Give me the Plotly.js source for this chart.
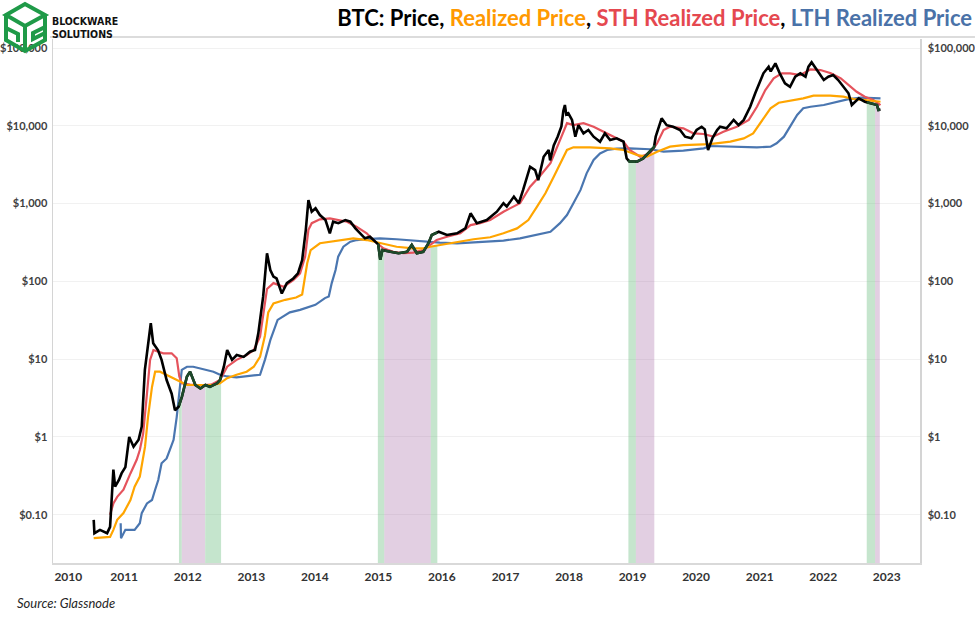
<!DOCTYPE html>
<html>
<head>
<meta charset="utf-8">
<script src="https://cdn.plot.ly/plotly-3.0.1.min.js"></script>
<style>
  html, body { margin: 0; padding: 0; background: #fff; }
  #wrap { position: relative; width: 975px; height: 622px; }
  #chart { width: 975px; height: 622px; }
  #logo { position: absolute; left: 0; top: 0; pointer-events: none; }
</style>
</head>
<body>
<div id="wrap">
  <div id="chart"></div>
  <svg id="logo" width="52" height="54" viewBox="0 0 52 54">
    <g fill="none" stroke="#1f9a48" stroke-width="4" stroke-linejoin="miter">
      <path d="M6,15 L25,4 L45,15 L25,26 Z"/>
      <path d="M6,15 L6,40 L25,51 L45,40 L45,15"/>
      <path d="M25,26 L25,51"/>
      <path d="M6,28 L18,34 L18,42"/>
      <path d="M45,27 L33,33 L33,39 L45,33"/>
    </g>
  </svg>
</div>
<script>
// ---------------- DATA ----------------
const priceDates = ['2010-07-10','2010-07-14','2010-08-15','2010-09-25','2010-10-12','2010-10-31','2010-11-10','2010-12-02','2010-12-17',
'2011-01-08','2011-01-30','2011-02-24','2011-03-25','2011-04-12','2011-04-30','2011-05-18','2011-06-03','2011-06-17','2011-07-15','2011-08-04','2011-09-02','2011-10-01','2011-10-20','2011-11-10','2011-11-29','2011-12-28',
'2012-01-15','2012-02-14','2012-03-14','2012-04-12','2012-05-08','2012-06-18','2012-07-05','2012-07-27','2012-08-15','2012-09-12','2012-10-09','2012-11-18','2012-12-24',
'2013-01-22','2013-02-10','2013-02-20','2013-03-10','2013-04-01','2013-04-20','2013-05-08','2013-05-26','2013-06-25','2013-07-24','2013-08-30','2013-09-26','2013-10-20','2013-11-10','2013-11-25','2013-12-14',
'2014-01-05','2014-01-30','2014-03-03','2014-03-28','2014-04-16','2014-05-16','2014-06-25','2014-07-24','2014-08-22','2014-09-16','2014-10-16','2014-11-14','2014-12-14','2014-12-31',
'2015-01-12','2015-01-24','2015-03-10','2015-04-27','2015-06-15','2015-07-12','2015-08-10','2015-09-16','2015-10-16','2015-11-04','2015-12-14',
'2016-01-30','2016-03-28','2016-05-15','2016-06-14','2016-07-20','2016-09-15','2016-11-12','2016-12-20',
'2017-01-08','2017-02-18','2017-03-18','2017-04-12','2017-05-22','2017-06-20','2017-07-08','2017-08-08','2017-09-06','2017-09-14','2017-10-05','2017-10-28','2017-11-18','2017-11-29','2017-12-08','2017-12-16','2017-12-28',
'2018-01-18','2018-02-06','2018-02-24','2018-03-25','2018-04-22','2018-05-22','2018-06-28','2018-07-26','2018-08-25','2018-10-01','2018-11-10','2018-11-28','2018-12-15',
'2019-01-26','2019-03-03','2019-04-12','2019-05-04','2019-05-14','2019-05-30','2019-06-17','2019-07-16','2019-08-22','2019-10-01','2019-10-30','2019-12-05',
'2020-01-04','2020-02-02','2020-02-20','2020-03-05','2020-03-10','2020-04-05','2020-05-01','2020-05-18','2020-06-24','2020-08-04','2020-09-01','2020-10-01','2020-11-07','2020-12-06',
'2021-01-04','2021-01-22','2021-02-21','2021-03-05','2021-04-01','2021-04-26','2021-05-26','2021-06-24','2021-07-24','2021-08-22','2021-09-21','2021-10-08','2021-10-26','2021-11-24',
'2022-01-04','2022-01-30','2022-02-27','2022-03-28','2022-04-26','2022-05-26','2022-06-14','2022-07-24','2022-08-28','2022-10-08','2022-11-06','2022-11-14','2022-11-26'];
const priceVals = [0.086,0.058,0.064,0.058,0.07,0.38,0.23,0.28,0.34,
0.41,1.0,0.75,0.92,1.36,7.3,16,29,16,13,9.8,5.4,3.6,2.2,2.45,3.3,6.0,
6.9,4.66,4.2,4.66,4.4,4.9,5.4,8.0,13.1,9.8,11.3,10.7,12.5,
13.1,21.5,31.8,64,230,140,115,109,70,95,109,127,188,460,1110,787,
873,713,615,415,585,560,615,585,481,415,358,375,324,300,
190,253,240,230,240,294,230,240,309,395,435,
395,415,480,750,560,615,787,1010,
915,1230,1010,1500,2980,2690,2000,4010,4890,3600,5600,7300,9800,15500,18500,14000,14500,
11900,7250,10200,8000,8830,7250,6250,8000,6560,6900,6250,3820,3460,
3460,3820,4650,5300,7250,9730,12500,10200,9730,8830,7250,6900,
8830,9730,9000,5660,4890,7000,8830,9730,9290,11900,10200,11900,17600,26200,
38800,47300,57600,50000,63500,47300,35200,31800,42800,47300,42800,57600,65400,52100,
38800,42800,45000,38800,31800,26200,18500,22500,20400,19500,18500,16000,16200];

const rpDates = ['2010-07-10','2010-10-12','2010-10-31','2010-11-22','2010-12-28',
'2011-02-06','2011-03-02','2011-04-01','2011-05-01','2011-05-18','2011-06-10','2011-06-28','2011-07-26','2011-09-20','2011-11-18','2011-12-28',
'2012-03-14','2012-05-28','2012-07-05','2012-08-15','2012-10-08','2012-12-05',
'2013-01-15','2013-02-20','2013-03-20','2013-04-08','2013-05-08','2013-07-15','2013-09-15','2013-10-20','2013-11-18','2013-12-08',
'2014-01-30','2014-03-28','2014-05-26','2014-08-10','2014-10-26',
'2015-01-10','2015-04-16','2015-07-20','2015-09-16','2015-10-26','2015-12-20',
'2016-03-28','2016-07-01','2016-10-05','2016-12-20',
'2017-03-08','2017-05-12','2017-07-01','2017-08-18','2017-10-05','2017-11-10','2017-12-20',
'2018-01-26','2018-05-01','2018-08-25','2018-11-10',
'2019-01-26','2019-03-25','2019-05-22','2019-08-04','2019-10-20',
'2020-02-14','2020-03-20','2020-07-16','2020-10-01','2020-11-24',
'2021-01-15','2021-03-04','2021-04-20','2021-06-24','2021-09-08','2021-11-06',
'2022-02-10','2022-04-26','2022-06-24','2022-08-18','2022-10-16','2022-11-26'];
const rpVals = [0.050,0.052,0.064,0.086,0.105,
0.155,0.23,0.31,0.75,1.8,4.4,6.9,6.9,6.0,5.1,4.66,
4.66,4.66,4.9,5.7,6.3,6.9,
8.0,10.7,20,40,52,58,62,68,171,253,
309,324,334,358,340,
309,279,266,266,279,294,
316,348,369,415,
480,615,915,1360,2220,3300,4890,
5290,5290,5140,4890,
4220,4010,4650,5390,5660,
5830,5830,6250,6900,8000,
11900,16800,19800,21000,22500,24400,
24400,23700,22100,21500,20800,20400];

const sthDates = ['2010-10-12','2010-10-31','2010-11-22','2010-12-28',
'2011-02-06','2011-03-14','2011-04-01','2011-04-20','2011-05-12','2011-05-30','2011-06-18','2011-08-14','2011-10-01','2011-10-30','2011-11-14','2011-11-28',
'2012-01-15','2012-03-15','2012-05-15','2012-07-05','2012-08-15','2012-10-08','2012-12-05',
'2013-01-15','2013-02-20','2013-03-10','2013-04-01','2013-05-08','2013-07-05','2013-08-30','2013-10-08','2013-11-06','2013-11-25','2013-12-14',
'2014-01-30','2014-03-28','2014-05-08','2014-07-05','2014-08-28','2014-10-26','2014-12-02',
'2015-01-30','2015-03-28','2015-05-26','2015-07-20','2015-09-16','2015-10-26','2015-12-02',
'2016-01-30','2016-04-16','2016-06-14','2016-08-08','2016-10-05','2016-12-20',
'2017-03-25','2017-05-22','2017-07-20','2017-09-16','2017-11-10','2017-12-20',
'2018-01-26','2018-03-25','2018-05-22','2018-07-16','2018-09-12','2018-11-10','2018-12-15',
'2019-02-14','2019-04-12','2019-05-22','2019-06-28','2019-08-04','2019-10-20','2019-12-16',
'2020-02-14','2020-04-08','2020-06-06','2020-08-22','2020-10-30','2020-12-16',
'2021-02-02','2021-03-22','2021-05-08','2021-06-24','2021-08-22','2021-10-20','2021-12-16',
'2022-02-14','2022-04-12','2022-05-26','2022-07-12','2022-08-28','2022-10-16','2022-11-26'];
const sthVals = [0.1,0.14,0.17,0.21,
0.34,0.51,0.68,1.1,3.6,9.8,13.1,11.9,11.9,10.3,6.0,4.9,
4.7,4.6,4.7,5.4,8.0,9.8,11.3,
13.1,19.4,35,80,95,85,104,127,208,460,560,
628,647,615,585,505,415,340,
266,240,230,234,253,294,340,
375,415,530,560,615,787,
1010,1650,2300,3300,6560,10800,
10200,10800,9730,8400,7250,6250,4890,
4010,4420,5960,8830,9730,9290,8000,
7850,7250,8400,9730,11900,17600,
28800,40800,47300,47300,45000,53200,52100,
47300,40800,33500,27400,23700,21500,18500];

const lthDates = ['2010-12-12','2010-12-14',
'2011-01-08','2011-03-02','2011-04-01','2011-04-12','2011-05-12','2011-06-10','2011-06-28','2011-07-16','2011-08-04','2011-09-02','2011-09-20','2011-10-12','2011-10-30','2011-11-18','2011-11-28','2011-12-28',
'2012-02-02','2012-03-14','2012-04-20','2012-05-28','2012-07-05','2012-08-15','2012-10-08','2012-12-05',
'2013-02-20','2013-03-20','2013-04-20','2013-06-01','2013-08-10','2013-10-08',
'2014-01-04','2014-02-28','2014-03-22','2014-04-08','2014-04-30','2014-05-15','2014-06-14','2014-07-24','2014-08-30','2014-10-26',
'2015-01-10','2015-04-16','2015-07-20','2015-10-05','2015-12-20',
'2016-03-28','2016-07-01','2016-10-05','2016-12-20',
'2017-03-25','2017-07-01','2017-09-16','2017-11-10','2017-12-20',
'2018-01-26','2018-03-08','2018-04-12','2018-05-22','2018-06-28','2018-08-08','2018-10-01','2018-12-15',
'2019-04-12','2019-06-28','2019-10-20',
'2020-02-14','2020-03-22','2020-08-04','2020-12-16',
'2021-03-04','2021-04-08','2021-05-20','2021-06-24','2021-08-04','2021-09-08','2021-10-20',
'2022-01-04','2022-03-22','2022-05-20','2022-08-04','2022-10-16','2022-11-26'];
const lthVals = [0.078,0.050,
0.064,0.064,0.078,0.105,0.14,0.155,0.21,0.28,0.46,0.53,0.68,0.92,1.8,4.9,7.3,8.0,
8.0,7.6,7.3,6.9,6.3,6.0,5.85,6.0,
6.3,9.8,17.6,32,40,43,
50,61,64,95,140,208,279,324,340,351,
358,348,334,324,316,
309,316,324,334,
358,395,435,560,713,
1010,1500,2450,3640,4420,4890,5080,5140,
5000,4650,4790,
5140,5500,5390,5290,
5390,5960,7250,9730,13800,16800,17600,
18500,20400,21900,23000,23000,22500];

// shaded periods
const bandStart = ['2011-11-12','2011-11-28','2012-04-10','2014-12-29','2015-02-04','2015-10-29','2018-12-08','2019-01-20','2022-09-08','2022-10-26'];
const bandEnd   = ['2011-11-28','2012-04-10','2012-07-11','2015-02-04','2015-10-29','2015-12-06','2019-01-20','2019-05-06','2022-10-26','2022-11-22'];
const bandKind  = ['green','pink','green','green','pink','green','green','pink','green','pink'];

// axis ticks
const yTickVals = [0.1, 1, 10, 100, 1000, 10000, 100000];
const yTickText = ['$0.10', '$1', '$10', '$100', '$1,000', '$10,000', '$100,000'];
const xTickVals = ['2010-02-14','2011-01-01','2012-01-01','2013-01-01','2014-01-01','2015-01-01','2016-01-01','2017-01-01','2018-01-01','2019-01-01','2020-01-01','2021-01-01','2022-01-01','2023-01-01'];
const xTickText = ['2010','2011','2012','2013','2014','2015','2016','2017','2018','2019','2020','2021','2022','2023'];

// ---------------- HELPERS ----------------
const toMs = s => Date.parse(s);
const fmt = ms => new Date(ms).toISOString().slice(0, 19).replace('T', ' ');
function interpLog(ds, vs, t) {
  const n = ds.length;
  if (t <= ds[0]) return vs[0];
  if (t >= ds[n - 1]) return vs[n - 1];
  let i = 0;
  while (i < n - 2 && ds[i + 1] < t) i++;
  const f = (t - ds[i]) / (ds[i + 1] - ds[i]);
  const a = Math.log10(vs[i]), b = Math.log10(vs[i + 1]);
  return Math.pow(10, a + f * (b - a));
}
const pMs = priceDates.map(toMs);
const rMs = rpDates.map(toMs);

const BASE = 0.005;
const fillCols = { green: 'rgba(110,190,130,0.40)', pink: 'rgba(160,95,160,0.30)' };

const traces = [];
// shaded bands: from bottom up to min(price, realized price)
bandStart.forEach((s0, k) => {
  const s = toMs(s0), e = toMs(bandEnd[k]);
  const ts = [s, e].concat(pMs.filter(t => t > s && t < e), rMs.filter(t => t > s && t < e)).sort((a, b) => a - b);
  const tops = ts.map(t => Math.min(interpLog(pMs, priceVals, t), interpLog(rMs, rpVals, t)));
  traces.push({
    type: 'scatter', mode: 'lines', fill: 'toself', fillcolor: fillCols[bandKind[k]],
    line: { width: 0, color: 'rgba(0,0,0,0)' }, hoverinfo: 'skip', showlegend: false,
    x: [fmt(s)].concat(ts.map(fmt), [fmt(e)]),
    y: [BASE].concat(tops, [BASE])
  });
});

traces.push({ type: 'scatter', mode: 'lines', x: lthDates, y: lthVals, line: { color: '#4a76b0', width: 2.2 }, showlegend: false, hoverinfo: 'skip' });
traces.push({ type: 'scatter', mode: 'lines', x: sthDates, y: sthVals, line: { color: '#e5535c', width: 2.2 }, showlegend: false, hoverinfo: 'skip' });
traces.push({ type: 'scatter', mode: 'lines', x: rpDates, y: rpVals, line: { color: '#ffa500', width: 2.2 }, showlegend: false, hoverinfo: 'skip' });
traces.push({ type: 'scatter', mode: 'lines', x: priceDates, y: priceVals, line: { color: '#000000', width: 2.6 }, showlegend: false, hoverinfo: 'skip' });

// price segments inside shaded periods drawn in dark green
const gx = [], gy = [];
bandStart.forEach((s0, k) => {
  const s = toMs(s0), e = toMs(bandEnd[k]);
  const ts = [s].concat(pMs.filter(t => t > s && t < e), [e]);
  ts.forEach(t => { gx.push(fmt(t)); gy.push(interpLog(pMs, priceVals, t)); });
  gx.push(null); gy.push(null);
});
traces.push({ type: 'scatter', mode: 'lines', x: gx, y: gy, line: { color: '#1d4a2a', width: 2.6 }, connectgaps: false, showlegend: false, hoverinfo: 'skip' });
// right axis carrier
traces.push({ type: 'scatter', mode: 'lines', x: [], y: [], yaxis: 'y2', showlegend: false, hoverinfo: 'skip' });

const tickFont = { family: 'Lato, sans-serif', size: 11, color: '#404040', weight: 700 };
const yCommon = {
  type: 'log', range: [-1.62, 5.116], tickvals: yTickVals, ticktext: yTickText,
  tickfont: tickFont, ticks: '', showline: true, linecolor: '#d4d4d4', linewidth: 1.5,
  zeroline: false, fixedrange: true
};

const layout = {
  width: 975, height: 622,
  margin: { l: 53, r: 55, t: 39, b: 59 },
  paper_bgcolor: '#ffffff', plot_bgcolor: '#ffffff',
  showlegend: false,
  title: {
    text: 'BTC: Price, <span style="color:#ff9900">Realized Price</span>, <span style="color:#e5484f">STH Realized Price</span>, <span style="color:#4a72a8">LTH Realized Price</span>',
    font: { family: 'Lato, sans-serif', size: 22, color: '#000000', weight: 700 },
    xref: 'container', x: 0.997, xanchor: 'right',
    yref: 'container', y: 0.971, yanchor: 'middle'
  },
  xaxis: {
    type: 'date', range: ['2009-11-18', '2023-07-11'],
    tickvals: xTickVals, ticktext: xTickText, tickfont: { family: 'Lato, sans-serif', size: 12, color: '#333333', weight: 700 },
    ticks: '', showgrid: false, showline: true, linecolor: '#d9d9d9', linewidth: 1.5, zeroline: false,
    ticklabelstandoff: 2
  },
  yaxis: Object.assign({}, yCommon, { side: 'left', showgrid: true, gridcolor: '#f1f1f1', gridwidth: 1, ticklabelstandoff: 2 }),
  yaxis2: Object.assign({}, yCommon, { side: 'right', overlaying: 'y', showgrid: false, ticklabelstandoff: 4 }),
  shapes: [
    { type: 'line', xref: 'paper', yref: 'paper', x0: -0.0035, x1: 1.0634, y0: 1.0038, y1: 1.0038, line: { color: '#dcdcdc', width: 2 } }
  ],
  annotations: [
    { xref: 'paper', yref: 'paper', x: -0.0035, y: 1.0343, xanchor: 'left', yanchor: 'middle', showarrow: false,
      text: 'BLOCKWARE', font: { family: 'DejaVu Sans Condensed, sans-serif', size: 10.5, color: '#111111', weight: 700 } },
    { xref: 'paper', yref: 'paper', x: -0.0035, y: 1.0095, xanchor: 'left', yanchor: 'middle', showarrow: false,
      text: 'SOLUTIONS', font: { family: 'DejaVu Sans Condensed, sans-serif', size: 10.5, color: '#111111', weight: 700 } },
    { xref: 'paper', yref: 'paper', x: -0.044, y: -0.0763, xanchor: 'left', yanchor: 'middle', showarrow: false,
      text: '<i>Source: Glassnode</i>', font: { family: 'Lato, sans-serif', size: 13, color: '#262626' } }
  ]
};

Plotly.newPlot('chart', traces, layout, { displayModeBar: false, staticPlot: true });
</script>
</body>
</html>
